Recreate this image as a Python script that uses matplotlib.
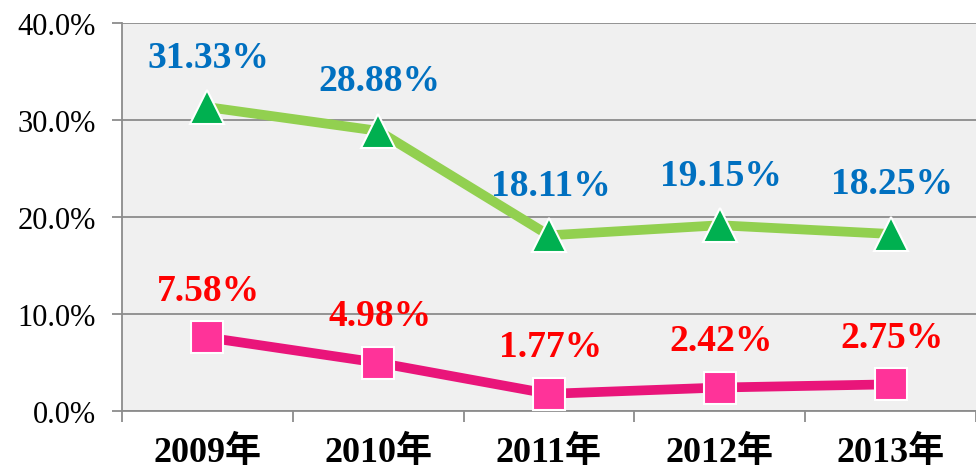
import matplotlib
matplotlib.use("Agg")
import matplotlib.pyplot as plt
from matplotlib.ticker import FuncFormatter

years = ["2009年", "2010年", "2011年", "2012年", "2013年"]
upper = [31.33, 28.88, 18.11, 19.15, 18.25]
lower = [7.58, 4.98, 1.77, 2.42, 2.75]
yticks = [0, 10, 20, 30, 40]

serif = ["Liberation Serif", "Noto Sans CJK SC"]

fig = plt.figure(figsize=(9.76, 4.77), dpi=100)
ax = fig.add_axes([122 / 976, 65 / 477, 1 - 122 / 976, 388 / 477])
ax.set_facecolor("#f0f0f0")

x = list(range(len(years)))
ax.plot(x, upper, color="#92d050", lw=7, marker="^", ms=25,
        mfc="#00b050", mec="white", mew=1.5, zorder=3, solid_capstyle="butt")
ax.plot(x, lower, color="#e9157a", lw=7, marker="s", ms=23,
        mfc="#ff3399", mec="white", mew=1.5, zorder=3, solid_capstyle="butt")

for xi, v in zip(x, upper):
    ax.annotate(f"{v:.2f}%", (xi, v), xytext=(1, 36), textcoords="offset points",
                ha="center", va="center", color="#0070c0", fontsize=27,
                fontweight="bold", family=serif)
for xi, v in zip(x, lower):
    ax.annotate(f"{v:.2f}%", (xi, v), xytext=(1, 34), textcoords="offset points",
                ha="center", va="center", color="#ff0000", fontsize=27,
                fontweight="bold", family=serif)

ax.set_xlim(-0.5, len(years) - 0.5)
ax.set_ylim(0, 40)
ax.set_yticks(yticks)
ax.yaxis.set_major_formatter(FuncFormatter(lambda v, _: f"{v:.1f}%"))
ax.grid(axis="y", color="#8c8c8c", lw=1.3)
ax.set_axisbelow(True)

ax.set_xticks([i - 0.5 for i in range(len(years) + 1)])
ax.set_xticklabels([])
ax.set_xticks(x, minor=True)
ax.set_xticklabels(years, minor=True, fontsize=26, fontweight="bold", family=serif)
ax.tick_params(axis="x", which="major", length=8, width=1.3, color="#8c8c8c", direction="out")
ax.tick_params(axis="x", which="minor", length=0, pad=17)
ax.tick_params(axis="y", length=7, width=1.3, color="#8c8c8c", pad=12)
for lab in ax.get_yticklabels():
    lab.set_fontfamily(serif)
    lab.set_fontsize(22)

for s in ["top", "right"]:
    ax.spines[s].set_visible(False)
for s in ["left", "bottom"]:
    ax.spines[s].set_color("#8c8c8c")
    ax.spines[s].set_linewidth(1.3)

fig.savefig("out.png", dpi=100)
